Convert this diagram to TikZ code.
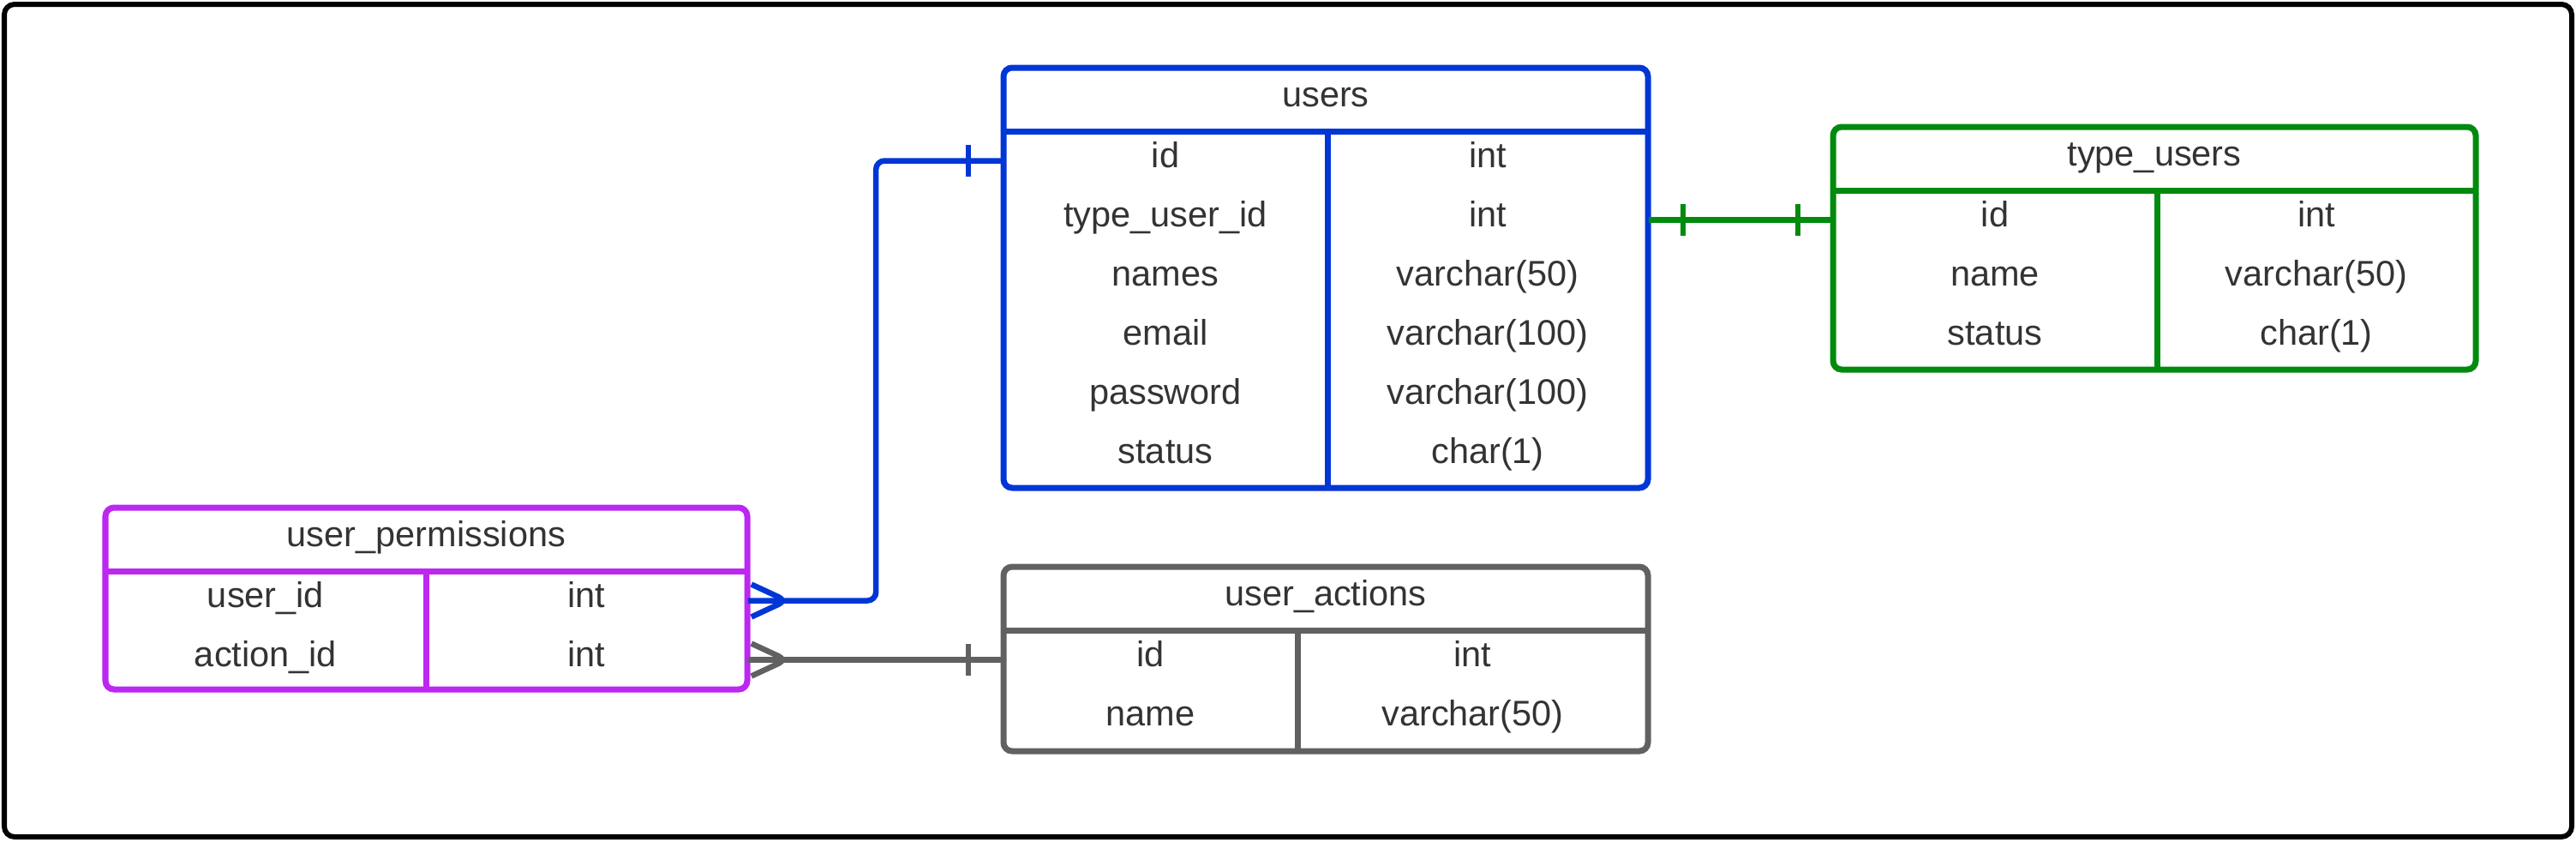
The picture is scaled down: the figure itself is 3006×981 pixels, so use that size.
\documentclass[tikz,border=0pt]{standalone}
\usepackage{fontspec}
\setmainfont{Liberation Sans}
\usepackage{xcolor}
\usepackage{tikz}
\usetikzlibrary{positioning, calc}

\definecolor{usersblue}{HTML}{0036D6}
\definecolor{typegreen}{HTML}{028A0F}
\definecolor{permpurple}{HTML}{BC27F2}
\definecolor{actiongray}{HTML}{616161}
\definecolor{celltext}{HTML}{333333}

\tikzset{
  tbl/.style={line width=0.07cm, rounded corners=0.1cm},
  tblline/.style={line width=0.07cm},
  cell/.style={minimum width=#1, minimum height=0.69cm, inner sep=0pt, text=celltext,
    font=\fontsize{11.8}{14}\selectfont, text height=8pt, text depth=3.2pt},
  rel/.style={line width=0.065cm, rounded corners=0.1cm}
}

\begin{document}
\begin{tikzpicture}[x=0.01cm, y=-0.01cm]
        \useasboundingbox (0,0) rectangle (3006,981);
        % outer frame
        \draw[line width=0.06cm, rounded corners=0.12cm] (5,5) rectangle (3001,976);

        % users table
        \draw[tbl, usersblue] (1171,79) rectangle (1923,569);
        \draw[tblline, usersblue] (1171,153) -- (1923,153);
        \draw[tblline, usersblue] (1549,153) -- (1549,569);
        \node[cell=7.52cm] (usersTitle) at (1547,116) {users};
        \node[cell=3.78cm] (u-id) at (1360,187.5) {id};
        \node[cell=3.74cm] (u-id-t) at (1736,187.5) {int};
        \node[cell=3.78cm] (u-tid) at (1360,256.5) {type\_user\_id};
        \node[cell=3.74cm] (u-tid-t) at (1736,256.5) {int};
        \node[cell=3.78cm] (u-names) at (1360,325.5) {names};
        \node[cell=3.74cm] (u-names-t) at (1736,325.5) {varchar(50)};
        \node[cell=3.78cm] (u-email) at (1360,394.5) {email};
        \node[cell=3.74cm] (u-email-t) at (1736,394.5) {varchar(100)};
        \node[cell=3.78cm] (u-pass) at (1360,463.5) {password};
        \node[cell=3.74cm] (u-pass-t) at (1736,463.5) {varchar(100)};
        \node[cell=3.78cm] (u-status) at (1360,532.5) {status};
        \node[cell=3.74cm] (u-status-t) at (1736,532.5) {char(1)};

        % type_users table
        \draw[tbl, typegreen] (2139,148) rectangle (2889,431);
        \draw[tblline, typegreen] (2139,222) -- (2889,222);
        \draw[tblline, typegreen] (2517,222) -- (2517,431);
        \node[cell=7.5cm] (typeTitle) at (2514,185) {type\_users};
        \node[cell=3.78cm] (t-id) at (2328,256.5) {id};
        \node[cell=3.72cm] (t-id-t) at (2703,256.5) {int};
        \node[cell=3.78cm] (t-name) at (2328,325.5) {name};
        \node[cell=3.72cm] (t-name-t) at (2703,325.5) {varchar(50)};
        \node[cell=3.78cm] (t-status) at (2328,394.5) {status};
        \node[cell=3.72cm] (t-status-t) at (2703,394.5) {char(1)};

        % user_permissions table
        \draw[tbl, permpurple] (123,592) rectangle (872,804);
        \draw[tblline, permpurple] (123,666) -- (872,666);
        \draw[tblline, permpurple] (497,666) -- (497,804);
        \node[cell=7.49cm] (permTitle) at (497.5,629) {user\_permissions};
        \node[cell=3.74cm] (p-uid) at (310,700.5) {user\_id};
        \node[cell=3.75cm] (p-uid-t) at (684.5,700.5) {int};
        \node[cell=3.74cm] (p-aid) at (310,769.5) {action\_id};
        \node[cell=3.75cm] (p-aid-t) at (684.5,769.5) {int};

        % user_actions table
        \draw[tbl, actiongray] (1171,661) rectangle (1923,876);
        \draw[tblline, actiongray] (1171,735) -- (1923,735);
        \draw[tblline, actiongray] (1514,735) -- (1514,876);
        \node[cell=7.52cm] (actionTitle) at (1547,698) {user\_actions};
        \node[cell=3.43cm] (a-id) at (1342.5,769.5) {id};
        \node[cell=4.09cm] (a-id-t) at (1718.5,769.5) {int};
        \node[cell=3.43cm] (a-name) at (1342.5,838.5) {name};
        \node[cell=4.09cm] (a-name-t) at (1718.5,838.5) {varchar(50)};

        % users -> user_permissions (one to many)
        \draw[rel, usersblue] (u-id.west) -- ++(-148,0) |- (p-uid-t.east);
        \draw[rel, usersblue] ($(u-id.west)+(-40,-18.5)$) -- ++(0,37);
        \draw[rel, usersblue] ($(p-uid-t.east)+(4,-19)$) -- ($(p-uid-t.east)+(45,0)$) -- ($(p-uid-t.east)+(4,19)$);

        % user_actions -> user_permissions (one to many)
        \draw[rel, actiongray] (a-id.west) -- (p-aid-t.east);
        \draw[rel, actiongray] ($(a-id.west)+(-40,-18.5)$) -- ++(0,37);
        \draw[rel, actiongray] ($(p-aid-t.east)+(4,-19)$) -- ($(p-aid-t.east)+(45,0)$) -- ($(p-aid-t.east)+(4,19)$);

        % users -> type_users (one to one)
        \draw[rel, typegreen] (u-tid-t.east) -- (t-id.west);
        \draw[rel, typegreen] ($(u-tid-t.east)+(40,-18.5)$) -- ++(0,37);
        \draw[rel, typegreen] ($(t-id.west)+(-40,-18.5)$) -- ++(0,37);
      \end{tikzpicture}
\end{document}
